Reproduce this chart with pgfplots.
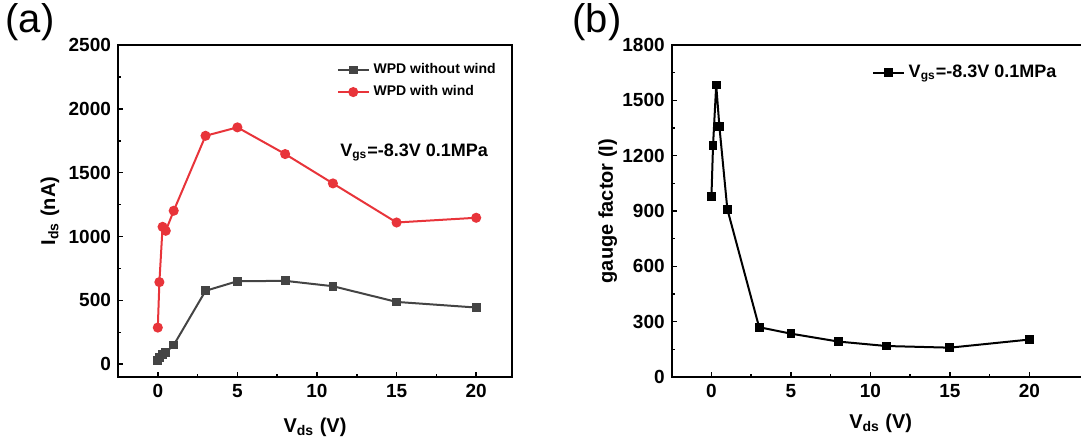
\documentclass[border=0pt]{standalone}
\usepackage{pgfplots}
\pgfplotsset{compat=1.18}
\usepackage{fontspec}
\setmainfont{Liberation Sans}
\definecolor{wred}{RGB}{232,52,58}
\definecolor{wgray}{RGB}{68,68,68}

\pgfplotsset{
  panel/.style={
    scale only axis, anchor=south west,
    axis line style={line width=1pt},
    every tick/.style={line width=0.8pt, black},
    major tick length=2.5pt, minor tick length=1.5pt,
    tick align=inside, xtick pos=left, ytick pos=left,
    xtick={0,5,...,20}, minor x tick num=1, minor y tick num=1,
    xmin=-2.5,
    ticklabel style={font=\bfseries\fontsize{9.5}{11}\selectfont},
    /pgf/number format/assume math mode=true,
    /pgf/number format/1000 sep={},
    label style={font=\bfseries\fontsize{10}{12}\selectfont},
    xlabel={V\textsubscript{ds} (V)},
    legend cell align=left,
    legend image code/.code={
      \draw[mark repeat=2,mark phase=2] plot coordinates {(0cm,0cm)(0.27cm,0cm)(0.54cm,0cm)};},
  }
}

\begin{document}
\begin{tikzpicture}
\clip (0,0) rectangle (540.5pt,222pt);

% (a) drain current
\begin{axis}[panel,
  at={(59pt,33.5pt)}, width=197pt, height=166pt,
  xmax=22.25, ymin=-100, ymax=2500, ytick={0,500,...,2500},
  ylabel={I\textsubscript{ds} (nA)},
  xlabel style={at={(axis description cs:0.5,0)}, anchor=center, yshift=-25pt},
  ylabel style={at={(axis description cs:-0.173,0.5)}, anchor=center},
  legend style={at={(0.985,0.97)}, anchor=north east, draw=none, fill=none,
    font=\bfseries\fontsize{7}{8}\selectfont, row sep=0.5pt},
]
\addplot[wgray, line width=1pt, mark=square*, mark size=1.7pt] coordinates
  {(0,28)(0.1,55)(0.3,78)(0.5,92)(1,150)(3,575)(5,650)(8,653)(11,611)(15,488)(20,444)};
\addlegendentry{WPD without wind}
\addplot[wred, line width=1pt, mark=*, mark size=2pt] coordinates
  {(0,287)(0.1,643)(0.3,1076)(0.5,1045)(1,1202)(3,1789)(5,1855)(8,1646)(11,1416)(15,1110)(20,1147)};
\addlegendentry{WPD with wind}
\node[font=\bfseries\fontsize{9}{11}\selectfont] at (axis cs:16.1,1660) {V\textsubscript{gs}=-8.3V 0.1MPa};
\end{axis}

% (b) gauge factor
\begin{axis}[panel,
  at={(335.85pt,33.5pt)}, width=209pt, height=166pt,
  xmax=23.8, ymin=0, ymax=1800, ytick={0,300,...,1800},
  ylabel={gauge factor (I)},
  xlabel style={at={(axis description cs:0.5,0)}, anchor=center, yshift=-23pt},
  ylabel style={at={(axis description cs:-0.153,0.5)}, anchor=center},
  legend style={at={(0.945,0.965)}, anchor=north east, draw=none, fill=none,
    font=\bfseries\fontsize{9}{11}\selectfont},
]
\addplot[black, line width=1pt, mark=square*, mark size=1.7pt] coordinates
  {(0,977)(0.1,1254)(0.3,1583)(0.5,1359)(1,910)(3,270)(5,235)(8,192)(11,168)(15,159)(20,203)};
\addlegendentry{V\textsubscript{gs}=-8.3V 0.1MPa}
\end{axis}

\node[font=\fontsize{20}{24}\selectfont] at (15pt,211pt) {(a)};
\node[font=\fontsize{20}{24}\selectfont] at (298.5pt,211pt) {(b)};
\end{tikzpicture}
\end{document}
